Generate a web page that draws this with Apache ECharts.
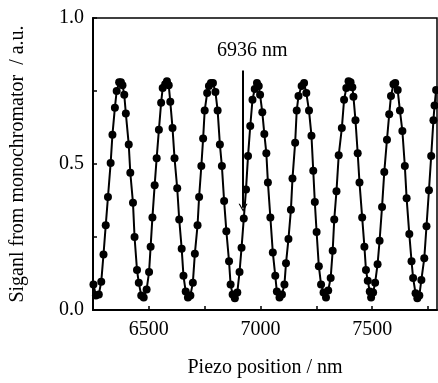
<!DOCTYPE html>
<html>
<head>
<meta charset="utf-8">
<script src="https://cdn.jsdelivr.net/npm/echarts@6/dist/echarts.min.js"></script>
<style>
  html, body { margin: 0; padding: 0; background: #fff; }
  #chart { width: 438px; height: 383px; }
</style>
</head>
<body>
<div id="chart"></div>
<script>
// piezo position (nm) of each sample
var posNm = [
  6252, 6263, 6276, 6287, 6297, 6307, 6317, 6329, 6337, 6348,
  6356, 6367, 6375, 6382, 6390, 6397, 6410, 6417, 6429, 6436,
  6447, 6455, 6466, 6477, 6490, 6501, 6508, 6516, 6526, 6535,
  6545, 6555, 6562, 6573, 6581, 6589, 6596, 6606, 6615, 6627,
  6636, 6647, 6655, 6665, 6675, 6686, 6697, 6706, 6718, 6725,
  6735, 6743, 6750, 6761, 6769, 6778, 6787, 6798, 6808, 6818,
  6827, 6837, 6847, 6859, 6866, 6875, 6885, 6896, 6906, 6915,
  6925, 6935, 6944, 6954, 6964, 6974, 6984, 6992, 6998, 7008,
  7017, 7026, 7033, 7044, 7055, 7066, 7073, 7085, 7096, 7107,
  7114, 7125, 7136, 7143, 7155, 7162, 7170, 7184, 7195, 7205,
  7217, 7228, 7236, 7243, 7251, 7261, 7271, 7282, 7293, 7303,
  7314, 7323, 7330, 7340, 7350, 7364, 7374, 7384, 7394, 7403,
  7411, 7416, 7425, 7435, 7443, 7455, 7465, 7472, 7480, 7489,
  7495, 7504, 7513, 7524, 7533, 7544, 7554, 7566, 7576, 7584,
  7595, 7603, 7614, 7624, 7635, 7646, 7654, 7666, 7676, 7683,
  7694, 7702, 7711, 7720, 7733, 7743, 7754, 7764, 7774, 7779,
  7786
];
// signal from monochromator (a.u.)
var signal = [
  0.087, 0.050, 0.053, 0.097, 0.190, 0.290, 0.387, 0.503, 0.600, 0.693,
  0.750, 0.780, 0.780, 0.770, 0.737, 0.673, 0.567, 0.470, 0.367, 0.250,
  0.137, 0.093, 0.050, 0.043, 0.070, 0.130, 0.217, 0.317, 0.427, 0.520,
  0.617, 0.710, 0.760, 0.773, 0.783, 0.770, 0.713, 0.623, 0.520, 0.417,
  0.310, 0.210, 0.117, 0.063, 0.043, 0.050, 0.093, 0.193, 0.290, 0.387,
  0.493, 0.587, 0.683, 0.743, 0.767, 0.777, 0.777, 0.747, 0.683, 0.567,
  0.493, 0.373, 0.270, 0.167, 0.087, 0.053, 0.040, 0.060, 0.130, 0.213,
  0.313, 0.413, 0.527, 0.630, 0.720, 0.757, 0.777, 0.767, 0.737, 0.677,
  0.603, 0.537, 0.437, 0.317, 0.197, 0.117, 0.063, 0.043, 0.053, 0.087,
  0.160, 0.243, 0.343, 0.450, 0.573, 0.683, 0.733, 0.767, 0.777, 0.743,
  0.683, 0.597, 0.477, 0.370, 0.267, 0.150, 0.087, 0.060, 0.043, 0.067,
  0.110, 0.203, 0.310, 0.407, 0.530, 0.623, 0.720, 0.760, 0.783, 0.780,
  0.763, 0.730, 0.650, 0.537, 0.437, 0.317, 0.217, 0.137, 0.100, 0.063,
  0.043, 0.060, 0.093, 0.157, 0.237, 0.353, 0.473, 0.583, 0.670, 0.733,
  0.773, 0.777, 0.753, 0.683, 0.613, 0.493, 0.383, 0.260, 0.167, 0.110,
  0.057, 0.040, 0.050, 0.103, 0.177, 0.287, 0.410, 0.527, 0.650, 0.700,
  0.753
];
// axis ranges / ticks
var xMin = 6250, xMax = 7790, xStep = 250;
var yMin = 0, yMax = 1, yStep = 0.25;
// marked position
var markNm = 6922;
var markText = '6936 nm';
var markTop = 0.82, markBottom = 0.35;

var chart = echarts.init(document.getElementById('chart'));
var font = 'Liberation Serif';

var points = posNm.map(function (x, i) { return [x, signal[i]]; });

var option = {
  animation: false,
  grid: {
    left: 87, right: 1, top: 18, bottom: 65,
    show: true, borderColor: '#000', borderWidth: 1.5
  },
  xAxis: {
    type: 'value',
    min: xMin, max: xMax, interval: xStep,
    name: 'Piezo position / nm',
    nameLocation: 'middle',
    nameGap: 48,
    nameTextStyle: { fontFamily: font, fontSize: 20, color: '#000' },
    axisLine: { lineStyle: { color: '#000', width: 2 } },
    axisTick: { inside: true, length: 4, lineStyle: { color: '#000', width: 1.5 } },
    splitLine: { show: false },
    axisLabel: {
      fontFamily: font, fontSize: 20, color: '#000', margin: 10,
      showMinLabel: false, showMaxLabel: false,
      formatter: function (v) { return v % 500 === 0 ? String(v) : ''; }
    }
  },
  yAxis: {
    type: 'value',
    min: yMin, max: yMax, interval: yStep,
    name: 'Siganl from monochromator  / a.u.',
    nameLocation: 'middle',
    nameRotate: 90,
    nameGap: 65,
    nameTextStyle: { fontFamily: font, fontSize: 20, color: '#000' },
    axisLine: { lineStyle: { color: '#000', width: 2 } },
    axisTick: { inside: true, length: 4, lineStyle: { color: '#000', width: 1.5 } },
    splitLine: { show: false },
    axisLabel: {
      fontFamily: font, fontSize: 20, color: '#000', margin: 9,
      formatter: function (v) {
        return Math.abs(v * 2 - Math.round(v * 2)) < 1e-9 ? v.toFixed(1) : '';
      }
    }
  },
  series: [{
    type: 'line',
    data: points,
    symbol: 'circle',
    symbolSize: 8,
    lineStyle: { color: '#000', width: 2 },
    itemStyle: { color: '#000' },
    markLine: {
      silent: true,
      symbol: ['none', 'path://M5,0 L10,9 L8.6,9 L5,2.6 L1.4,9 L0,9 Z'],
      symbolSize: [9, 8],
      lineStyle: { color: '#000', width: 2, type: 'solid' },
      label: { show: false },
      data: [[
        { coord: [markNm, markTop] },
        { coord: [markNm, markBottom] }
      ]]
    },
    markPoint: {
      silent: true,
      symbol: 'circle',
      symbolSize: 0,
      label: {
        show: true, position: 'inside',
        fontFamily: font, fontSize: 20, color: '#000',
        formatter: markText
      },
      data: [{ coord: [6963, 0.887] }]
    }
  }]
};

chart.setOption(option);
</script>
</body>
</html>
